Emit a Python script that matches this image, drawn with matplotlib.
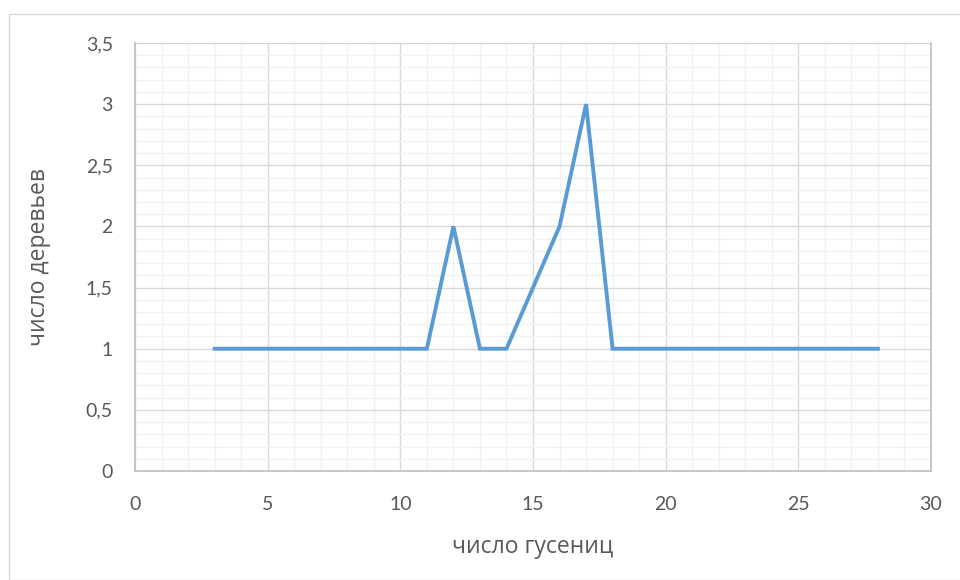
import matplotlib
matplotlib.use("Agg")
import matplotlib.pyplot as plt
from matplotlib.ticker import MultipleLocator, FuncFormatter
from matplotlib.patches import Rectangle

# Data: number of caterpillars vs number of trees
caterpillars = [3, 4, 5, 6, 7, 8, 9, 10, 11, 12, 13, 14, 15, 16, 17, 18,
                19, 20, 21, 22, 23, 24, 25, 26, 27, 28]
trees = [1, 1, 1, 1, 1, 1, 1, 1, 1, 2, 1, 1, 1.5, 2, 3, 1,
         1, 1, 1, 1, 1, 1, 1, 1, 1, 1]

x_label = "число гусениц"
y_label = "число деревьев"

plt.rcParams['font.family'] = ['Lato', 'DejaVu Sans']
title_font = ['Open Sans', 'DejaVu Sans']

fig = plt.figure(figsize=(9.6, 5.8), dpi=100)
ax = fig.add_axes([135/960, 1 - 471/580, (931 - 135)/960, (471 - 43)/580])

# outer chart frame
fig.patches.append(Rectangle((9/960, 0), 1.0, 1 - 14/580, transform=fig.transFigure,
                             fill=False, edgecolor="#d9d9d9", linewidth=1.0))

ax.plot(caterpillars, trees, color="#5b9bd5", linewidth=2.8,
        solid_joinstyle="miter", zorder=3)

ax.set_xlim(0, 30)
ax.set_ylim(0, 3.5)
ax.xaxis.set_major_locator(MultipleLocator(5))
ax.xaxis.set_minor_locator(MultipleLocator(1))
ax.yaxis.set_major_locator(MultipleLocator(0.5))
ax.yaxis.set_minor_locator(MultipleLocator(0.1))

fmt = FuncFormatter(lambda v, p: (f"{v:g}").replace(".", ","))
ax.xaxis.set_major_formatter(fmt)
ax.yaxis.set_major_formatter(fmt)

ax.grid(which="major", color="#d9d9d9", linewidth=1.0)
ax.grid(which="minor", color="#f2f2f2", linewidth=1.0)
ax.set_axisbelow(True)

for side in ["left", "bottom", "right"]:
    ax.spines[side].set_color("#bfbfbf")
    ax.spines[side].set_linewidth(1.2)
ax.spines["top"].set_visible(False)

ax.tick_params(which="both", length=0, labelsize=14, labelcolor="#595959")
ax.tick_params(axis="x", pad=18)
ax.tick_params(axis="y", pad=16)

ax.set_xlabel(x_label, fontsize=16.5, color="#595959", labelpad=16,
              family=title_font)
ax.set_ylabel(y_label, fontsize=16.5, color="#595959", labelpad=25,
              family=title_font)

fig.savefig("out.png", dpi=100)
